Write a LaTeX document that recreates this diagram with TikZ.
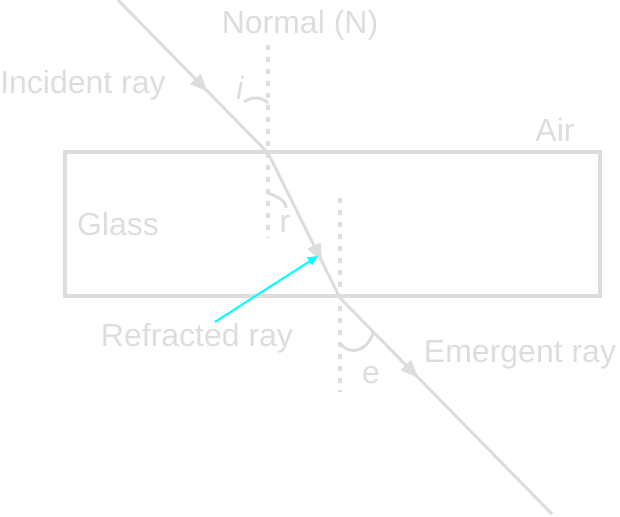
\documentclass[tikz,border=0pt]{standalone}
\usepackage{fontspec}
\setmainfont{Liberation Sans}
\usetikzlibrary{decorations.markings,arrows.meta}
\definecolor{lg}{HTML}{DDDDDD}
\tikzset{
 ray/.style={draw=lg,line width=3pt,postaction={decorate},decoration={markings,mark=at position #1 with {\arrow{Triangle[length=18pt,width=14pt]}}}},
 normal/.style={draw=lg,line width=3.5pt,dash pattern=on 5pt off 7pt},
 lbl/.style={text=lg,font=\fontsize{32}{32}\selectfont,inner sep=0pt},
 arc/.style={draw=lg,line width=3pt}
}
\begin{document}
\begin{tikzpicture}[x=1pt,y=-1pt]
\useasboundingbox (0,0) rectangle (620,516);
\draw[lg,line width=3.5pt] (65,152) rectangle (600,296);
\coordinate (s) at (118,0);
\coordinate (p) at (268,153);
\coordinate (q) at (340,298);
\coordinate (t) at (552,514);
\coordinate (n1a) at (268,45); \coordinate (n1b) at (268,238);
\coordinate (n2a) at (340,198); \coordinate (n2b) at (340,392);
\draw[normal] (n1a) -- (n1b);
\draw[normal] (n2a) -- (n2b);
\draw[ray=0.6] (s) -- (p);
\draw[ray=0.75] (p) -- (q);
\draw[ray=0.37] (q) -- (t);
\draw[arc] (244,102) .. controls (252,96) and (262,97) .. (268,103);
\draw[arc] (268,193) .. controls (276,196) and (286,200) .. (286,208);
\draw[arc] (340,343) .. controls (350,357) and (368,350) .. (373,333);
\node[lbl] (nl) at (300,25) {Normal (N)};
\node[lbl] (il) at (83,85) {Incident ray};
\node[lbl] (ii) at (240,88) {\itshape i};
\node[lbl] (al) at (555,130) {Air};
\node[lbl] (gl) at (118,224) {Glass};
\node[lbl] (rl) at (285,224) {r};
\node[lbl] (rf) at (197,338) {Refracted ray};
\node[lbl] (el) at (371,375) {e};
\node[lbl] (em) at (520,355) {Emergent ray};
\definecolor{cy}{HTML}{00FFFF}
\coordinate (ct) at (318,256);
\draw[cy,line width=2pt,-{Triangle[length=10pt,width=9pt]}] (215,322) -- (ct);
\end{tikzpicture}
\end{document}
